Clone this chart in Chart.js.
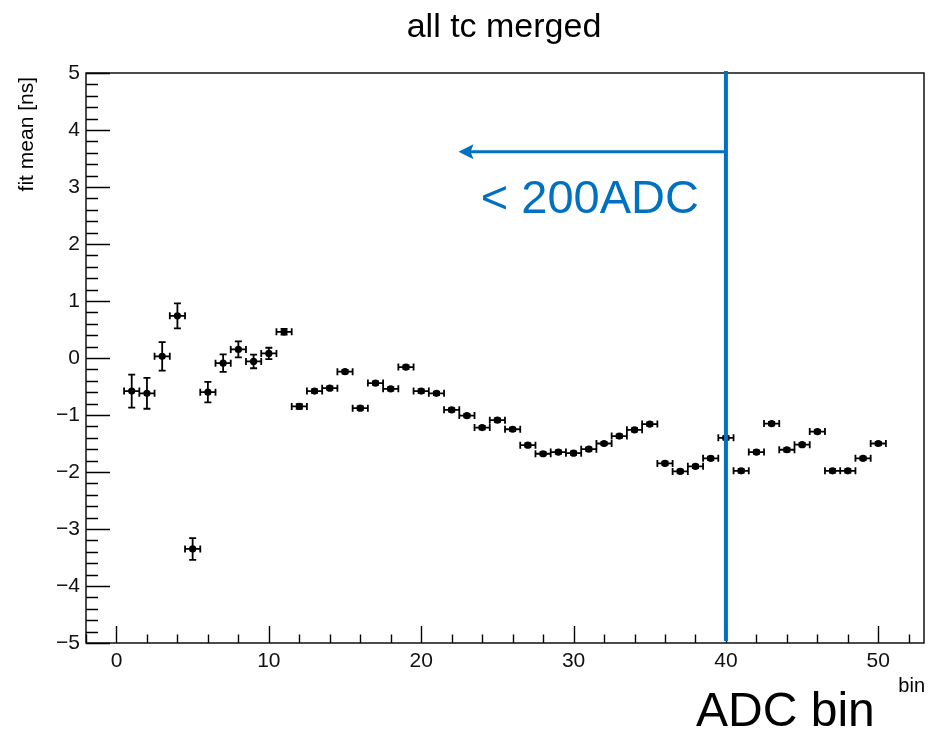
<!DOCTYPE html>
<html>
<head>
<meta charset="utf-8">
<script src="https://cdn.jsdelivr.net/npm/chart.js@4.4.1/dist/chart.umd.min.js"></script>
<style>
  html, body { margin: 0; padding: 0; background: #fff; }
  #wrap { width: 928px; height: 731px; }
</style>
</head>
<body>
<div id="wrap"><canvas id="chart" width="928" height="731"></canvas></div>
<script>
// ---- data ----
const bins = [1, 2, 3, 4, 5, 6, 7, 8, 9, 10,
              11, 12, 13, 14, 15, 16, 17, 18, 19, 20,
              21, 22, 23, 24, 25, 26, 27, 28, 29, 30,
              31, 32, 33, 34, 35, 36, 37, 38, 39, 40,
              41, 42, 43, 44, 45, 46, 47, 48, 49, 50];
const fitMean = [-0.58, -0.62, 0.03, 0.74, -3.35, -0.60, -0.09, 0.15, -0.06, 0.08,
                 0.46, -0.85, -0.58, -0.53, -0.24, -0.88, -0.44, -0.54, -0.16, -0.58,
                 -0.62, -0.91, -1.01, -1.22, -1.09, -1.25, -1.53, -1.68, -1.65, -1.67,
                 -1.60, -1.50, -1.37, -1.26, -1.16, -1.85, -1.99, -1.90, -1.76, -1.40,
                 -1.98, -1.65, -1.15, -1.61, -1.52, -1.29, -1.98, -1.98, -1.76, -1.50];
const fitErr = [0.29, 0.27, 0.25, 0.22, 0.19, 0.18, 0.155, 0.14, 0.12, 0.10,
                0.05, 0.04, 0.03, 0.03, 0.03, 0.03, 0.03, 0.03, 0.03, 0.03,
                0.03, 0.03, 0.03, 0.03, 0.03, 0.03, 0.03, 0.03, 0.03, 0.03,
                0.03, 0.03, 0.03, 0.03, 0.03, 0.03, 0.03, 0.03, 0.03, 0.03,
                0.03, 0.03, 0.03, 0.03, 0.03, 0.03, 0.03, 0.03, 0.03, 0.03];
const binHalfWidth = 0.5;
const xTickLabels = [0, 10, 20, 30, 40, 50];
const yTickLabels = [-5, -4, -3, -2, -1, 0, 1, 2, 3, 4, 5];

// annotation: cut at bin 40, arrow to the left
const cutBin = 40;
const arrowTipBin = 22.45;
const arrowLevel = 3.62;

const FONT = "'Liberation Sans', Arial, Helvetica, sans-serif";
const BLUE = '#0070c0';

// ---- frame + inside ticks (ROOT style) + error bars ----
const framePlugin = {
    id: 'frame',
    beforeDatasetsDraw(chart) {
        const { ctx, chartArea: a, scales: { x, y } } = chart;
        ctx.save();
        ctx.strokeStyle = '#000';
        ctx.lineWidth = 1.4;
        ctx.strokeRect(a.left, a.top, a.right - a.left, a.bottom - a.top);

        ctx.beginPath();
        // y ticks: major every 1, minor every 0.2
        for (let i = -25; i <= 25; i++) {
            const py = Math.round(y.getPixelForValue(i * 0.2)) + 0.5;
            const len = (i % 5 === 0) ? 24 : 12;
            ctx.moveTo(a.left, py);
            ctx.lineTo(a.left + len, py);
        }
        // x ticks: major every 10, minor every 2
        for (let i = -1; i <= 26; i++) {
            const px = Math.round(x.getPixelForValue(i * 2)) + 0.5;
            const len = (i % 5 === 0) ? 17 : 8.5;
            ctx.moveTo(px, a.bottom);
            ctx.lineTo(px, a.bottom - len);
        }
        ctx.stroke();

        // error bars
        ctx.lineWidth = 1.8;
        ctx.beginPath();
        bins.forEach((b, i) => {
            const px = x.getPixelForValue(b);
            const py = y.getPixelForValue(fitMean[i]);
            const x1 = x.getPixelForValue(b - binHalfWidth);
            const x2 = x.getPixelForValue(b + binHalfWidth);
            const y1 = y.getPixelForValue(fitMean[i] + fitErr[i]);
            const y2 = y.getPixelForValue(fitMean[i] - fitErr[i]);
            ctx.moveTo(x1, py); ctx.lineTo(x2, py);
            ctx.moveTo(x1, py - 3.5); ctx.lineTo(x1, py + 3.5);
            ctx.moveTo(x2, py - 3.5); ctx.lineTo(x2, py + 3.5);
            ctx.moveTo(px, y1); ctx.lineTo(px, y2);
            ctx.moveTo(px - 3.5, y1); ctx.lineTo(px + 3.5, y1);
            ctx.moveTo(px - 3.5, y2); ctx.lineTo(px + 3.5, y2);
        });
        ctx.stroke();
        ctx.restore();
    }
};

// ---- blue cut line, arrow and all free text ----
const annotPlugin = {
    id: 'annot',
    afterDatasetsDraw(chart) {
        const { ctx, chartArea: a, scales: { x, y } } = chart;
        const cx = x.getPixelForValue(cutBin);
        const ay = y.getPixelForValue(arrowLevel);
        const tipX = x.getPixelForValue(arrowTipBin);
        ctx.save();
        ctx.strokeStyle = BLUE;
        ctx.fillStyle = BLUE;
        ctx.lineWidth = 4;
        ctx.beginPath();
        ctx.moveTo(cx, a.top - 2);
        ctx.lineTo(cx, a.bottom - 2);
        ctx.stroke();

        ctx.lineWidth = 3;
        ctx.beginPath();
        ctx.moveTo(cx, ay);
        ctx.lineTo(tipX + 10, ay);
        ctx.stroke();
        ctx.beginPath();
        ctx.moveTo(tipX, ay);
        ctx.lineTo(tipX + 15, ay - 7.5);
        ctx.lineTo(tipX + 12, ay);
        ctx.lineTo(tipX + 15, ay + 7.5);
        ctx.closePath();
        ctx.fill();

        ctx.font = '47px ' + FONT;
        ctx.textAlign = 'right';
        ctx.textBaseline = 'alphabetic';
        ctx.fillText('< 200ADC', cx - 27, ay + 61);
        ctx.restore();
    },
    afterDraw(chart) {
        const { ctx } = chart;
        ctx.save();
        ctx.fillStyle = '#000';
        ctx.textBaseline = 'alphabetic';

        ctx.font = '34px ' + FONT;
        ctx.textAlign = 'center';
        ctx.fillText('all tc merged', 504, 37);

        ctx.font = '20px ' + FONT;
        ctx.textAlign = 'right';
        ctx.fillText('bin', 925, 692);

        ctx.font = '48px ' + FONT;
        ctx.textAlign = 'left';
        ctx.fillText('ADC bin', 696, 726);

        ctx.translate(33, 77);
        ctx.rotate(-Math.PI / 2);
        ctx.font = '21px ' + FONT;
        ctx.textAlign = 'right';
        ctx.fillText('fit mean [ns]', 0, 0);
        ctx.restore();
    }
};

const fmt = v => (v < 0 ? '\u2212' + Math.abs(v) : String(v));

new Chart(document.getElementById('chart'), {
    type: 'scatter',
    data: {
        datasets: [{
            label: 'fit mean',
            data: bins.map((b, i) => ({ x: b, y: fitMean[i] })),
            backgroundColor: '#000',
            borderColor: '#000',
            pointRadius: 3.6,
            pointHoverRadius: 3.6,
            borderWidth: 0
        }]
    },
    options: {
        responsive: false,
        animation: false,
        events: [],
        layout: { padding: { top: 73, right: 4, left: 0, bottom: 0 } },
        plugins: {
            legend: { display: false },
            tooltip: { enabled: false },
            title: { display: false }
        },
        scales: {
            x: {
                type: 'linear',
                min: -2,
                max: 53,
                grid: { display: false, drawTicks: false },
                border: { display: false },
                afterBuildTicks: s => { s.ticks = xTickLabels.map(v => ({ value: v })); },
                afterFit: s => { s.height = 88; },
                ticks: {
                    color: '#111',
                    font: { family: FONT, size: 21 },
                    padding: 6,
                    maxRotation: 0,
                    callback: fmt
                }
            },
            y: {
                type: 'linear',
                min: -5,
                max: 5,
                grid: { display: false, drawTicks: false },
                border: { display: false },
                afterBuildTicks: s => { s.ticks = yTickLabels.map(v => ({ value: v })); },
                afterFit: s => { s.width = 86; },
                ticks: {
                    color: '#111',
                    font: { family: FONT, size: 21 },
                    padding: 6,
                    callback: fmt
                }
            }
        }
    },
    plugins: [framePlugin, annotPlugin]
});
</script>
</body>
</html>
